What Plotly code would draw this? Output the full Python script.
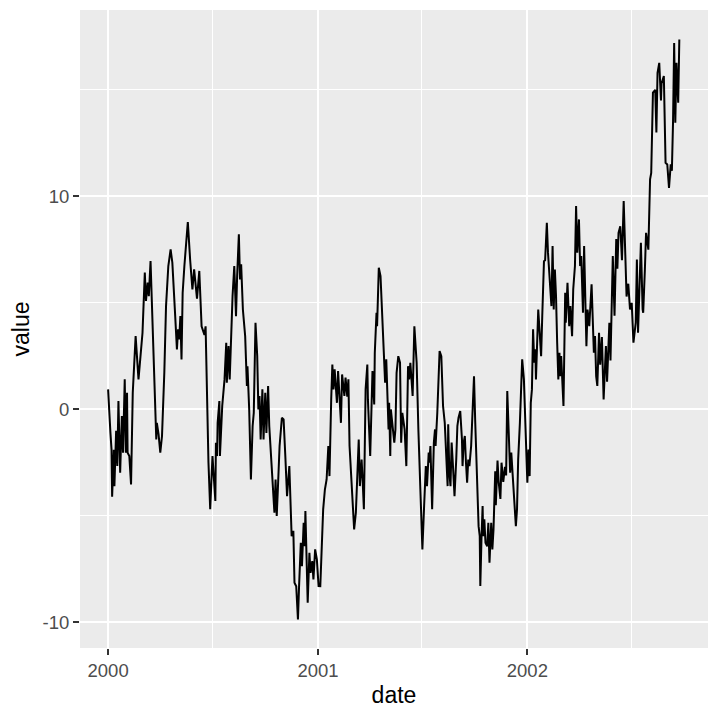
import pandas as pd
import plotly.graph_objects as go

# days since 2000-01-01
day = [0, 2, 4, 6, 7, 10, 11, 14, 16, 18, 21, 24, 26, 29, 31, 33, 34, 37, 40, 43,
       45, 48, 53, 57, 60, 64, 66, 69, 71, 74, 79, 82, 84, 85, 88, 91, 94, 98, 101, 105,
       109, 112, 115, 117, 120, 122, 124, 126, 128, 130, 133, 137, 139, 143, 147, 150, 155, 159, 162, 163,
       168, 170, 175, 178, 182, 187, 188, 190, 191, 194, 195, 199, 203, 206, 207, 210, 212, 214, 217, 220,
       223, 225, 228, 230, 232, 235, 239, 242, 243, 246, 249, 252, 254, 257, 260, 262, 264, 266, 269, 271,
       274, 276, 279, 281, 284, 287, 290, 292, 294, 296, 299, 303, 306, 309, 312, 316, 318, 320, 323, 325,
       328, 331, 333, 336, 338, 341, 343, 344, 348, 351, 353, 356, 358, 361, 364, 367, 370, 375, 378, 381,
       384, 386, 389, 391, 393, 395, 399, 401, 406, 408, 412, 414, 417, 419, 421, 424, 427, 429, 432, 434,
       437, 439, 442, 444, 446, 449, 452, 453, 457, 461, 464, 465, 468, 469, 472, 475, 478, 481, 483, 485,
       489, 490, 492, 493, 496, 499, 501, 503, 506, 509, 511, 513, 517, 520, 523, 525, 527, 531, 534, 538,
       541, 546, 548, 551, 554, 556, 559, 560, 562, 565, 568, 570, 571, 574, 575, 578, 581, 584, 587, 589,
       592, 593, 595, 597, 599, 601, 604, 607, 609, 611, 614, 617, 618, 620, 622, 624, 626, 628, 630, 633,
       635, 638, 640, 642, 646, 648, 649, 651, 653, 654, 656, 658, 661, 663, 665, 668, 670, 672, 675, 676,
       679, 681, 684, 686, 689, 692, 694, 696, 699, 701, 703, 706, 708, 711, 713, 715, 718, 720, 722, 725,
       729, 731, 733, 735, 737, 739, 741, 743, 745, 746, 750, 755, 757, 760, 762, 765, 767, 770, 773, 775,
       777, 779, 781, 783, 785, 787, 788, 790, 792, 794, 797, 798, 801, 804, 806, 809, 811, 814, 816, 818,
       821, 823, 825, 828, 830, 832, 834, 836, 839, 843, 845, 847, 849, 851, 853, 856, 858, 861, 864, 868,
       870, 874, 876, 878, 880, 883, 886, 888, 890, 893, 896, 899, 903, 904, 907, 910, 913, 916, 920, 922,
       924, 929, 932, 933, 936, 938, 942, 943, 945, 947, 950, 954, 956, 958, 961, 964, 965, 969, 972, 975,
       978, 981, 983, 985, 987, 989, 991, 994, 996]

value = [0.94, -0.47, -1.08, -1.9, -4.1, -1.9, -3.6, -1.0, -2.66, 0.39, -2.97, -0.31, -2.03, 1.41, -2.03, 0.78, -2.03, -2.19, -3.52, 0.78,
         2.03, 3.44, 1.41, 2.5, 3.6, 6.42, 5.09, 5.95, 5.32, 6.96, 3.13, 0.94, -1.41, -0.63, -1.17, -2.03, -1.25, 1.72, 4.85, 6.73,
         7.51, 6.89, 4.85, 4.38, 2.82, 3.76, 3.29, 4.38, 2.35, 5.48, 6.73, 7.98, 8.8, 7.04, 5.63, 6.57, 5.2, 6.5, 5.0, 3.9,
         3.5, 3.9, -2.5, -4.69, -2.19, -4.3, -1.56, -2.19, -0.63, 0.39, -2.19, 0.16, 1.41, 3.13, 1.25, 2.97, 1.41, 3.44, 5.32, 6.73,
         4.38, 6.26, 8.22, 6.1, 6.81, 4.69, 3.44, 1.1, 2.03, 0.0, -3.29, -0.78, -0.16, 4.07, 2.5, 0.0, 0.63, -1.41, 0.94, -1.41,
         0.78, -1.1, 1.1, -0.78, -2.03, -3.29, -4.85, -3.29, -5.0, -3.76, -1.72, -0.39, -0.47, -2.19, -4.07, -2.66, -4.54, -5.95, -5.7, -8.14,
         -8.3, -9.86, -8.29, -6.26, -7.36, -5.32, -6.42, -4.77, -9.08, -6.73, -7.67, -7.12, -7.98, -6.57, -7.04, -8.29, -8.3, -4.69, -3.76, -3.29,
         -1.72, -3.13, 0.47, 2.11, 0.94, 1.88, 0.31, 1.8, -0.63, 1.64, 0.63, 1.49, 0.6, 1.41, -1.72, -3.44, -4.69, -5.63, -4.85, -3.13,
         -1.41, -3.6, -2.35, -3.44, -4.69, 0.94, 2.11, 0.47, -2.19, 1.8, 0.23, 2.66, 4.54, 3.91, 6.65, 6.26, 4.38, 2.35, 1.25, 2.35,
         -0.94, 0.31, -2.19, 0.0, -0.94, -1.56, -0.94, 1.72, 2.5, 2.19, -1.56, -0.16, -0.94, -2.66, 2.03, 1.41, 2.19, 0.63, 3.9, 2.19,
         -0.94, -4.69, -6.57, -4.54, -2.66, -3.6, -2.03, -2.5, -1.72, -4.69, -1.56, -0.94, -1.72, -0.16, 0.63, 2.74, 2.5, 0.16, -0.63, -2.19,
         -3.6, -0.7, -2.97, -3.6, -1.56, -2.5, -4.07, -2.35, -0.78, -0.39, -0.08, -1.41, -2.66, -1.56, -1.25, -2.5, -3.44, -2.35, -2.66, -1.72,
         -0.31, 1.56, -0.47, -1.88, -5.48, -5.95, -8.29, -6.1, -4.54, -5.95, -5.16, -6.26, -6.42, -5.32, -7.2, -5.32, -6.57, -5.63, -2.9, -4.5,
         -2.4, -3.4, -4.2, -2.5, -3.4, -2.7, -3.1, 0.86, -1.56, -2.97, -2.03, -3.29, -4.38, -5.48, -4.69, -2.35, -0.63, 1.56, 2.35, 1.41,
         -1.88, -3.44, -1.88, -3.13, 0.31, 0.94, 3.76, 2.19, 2.82, 1.41, 4.69, 2.5, 4.38, 6.96, 7.0, 8.76, 7.36, 5.95, 4.85, 7.67,
         4.69, 6.57, 5.32, 3.13, 1.41, 2.66, 1.56, 2.5, 1.25, 0.16, 5.48, 4.07, 5.95, 3.91, 4.85, 3.44, 5.63, 6.73, 9.55, 7.36,
         8.92, 6.73, 7.2, 4.54, 7.67, 5.32, 2.97, 4.69, 3.91, 5.87, 4.1, 2.66, 3.44, 1.56, 1.1, 3.6, 2.1, 3.4, 0.47, 2.97,
         1.3, 4.07, 2.3, 4.3, 7.2, 4.4, 8.0, 6.6, 8.29, 8.6, 7.0, 9.78, 6.26, 5.3, 5.9, 4.69, 5.0, 3.13, 4.07, 7.04,
         3.6, 7.82, 4.69, 4.54, 6.6, 8.29, 7.5, 8.29, 10.8, 11.1, 14.87, 15.0, 13.0, 15.8, 16.27, 14.5, 15.3, 15.65, 11.58, 11.5,
         10.4, 11.5, 11.2, 13.46, 17.2, 13.46, 16.27, 14.4, 17.37]

y_ticks = [-10, 0, 10]
y_labels = ["-10", "0", "10"]

date = pd.Timestamp("2000-01-01") + pd.to_timedelta(day, unit="D")

fig = go.Figure()
fig.add_trace(go.Scatter(x=date, y=value, mode="lines",
                         line=dict(color="black", width=2)))

grid = dict(showgrid=True, gridcolor="white", gridwidth=2.2, zeroline=False,
            ticks="outside", ticklen=6, tickwidth=2, tickcolor="#333333",
            tickfont=dict(size=18.5, color="#4D4D4D"), showline=False,
            automargin=False)

fig.update_xaxes(
    **grid,
    type="date",
    range=[pd.Timestamp("2000-01-01") - pd.Timedelta(days=49),
           pd.Timestamp("2000-01-01") + pd.Timedelta(days=1046)],
    dtick="M12", tick0="2000-01-01", tickformat="%Y",
    minor=dict(dtick="M6", tick0="2000-01-01", showgrid=True, gridcolor="white", gridwidth=1.1, ticks=""),
    title=dict(text="date", font=dict(size=23, color="black"), standoff=6),
)
fig.update_yaxes(
    **grid,
    range=[-11.2, 18.75],
    tickmode="array", tickvals=y_ticks, ticktext=y_labels,
    minor=dict(dtick=5, tick0=0, showgrid=True, gridcolor="white", gridwidth=1.1, ticks=""),
    title=dict(text="value", font=dict(size=23, color="black"), standoff=6),
)

# page body adds 8px, so margins are trimmed to match
fig.update_layout(
    width=720, height=720,
    margin=dict(l=72, r=20, t=2, b=80),
    plot_bgcolor="#EBEBEB", paper_bgcolor="white",
    font=dict(family="Liberation Sans, Arial, sans-serif"),
    showlegend=False,
)

fig.write_html("out.html")
